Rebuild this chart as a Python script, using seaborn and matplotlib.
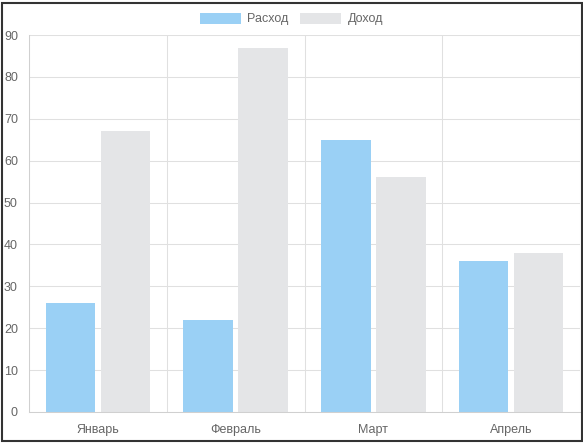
import matplotlib
matplotlib.use("Agg")
import pandas as pd
from matplotlib import pyplot as plt
from matplotlib.patches import Rectangle
import seaborn as sns

months = ["Январь", "Февраль", "Март", "Апрель"]
expense = [26, 22, 65, 36]
income = [67, 87, 56, 38]
series_names = ["Расход", "Доход"]
series_colors = ["#9ad0f5", "#e4e5e7"]

df = pd.DataFrame({
    "month": months * 2,
    "value": expense + income,
    "series": [series_names[0]] * len(months) + [series_names[1]] * len(months),
})

sns.set_style("white")
plt.rcParams["font.family"] = ["Liberation Sans", "DejaVu Sans"]

W, H = 583, 443
fig = plt.figure(figsize=(W / 100, H / 100), dpi=100)
ax = fig.add_axes([29 / W, 31 / H, (580 - 29) / W, (412 - 35) / H])

sns.barplot(data=df, x="month", y="value", hue="series", order=months,
            hue_order=series_names, palette=series_colors, width=0.8, gap=0.1,
            saturation=1, edgecolor="none", linewidth=0, ax=ax, legend=False)

ax.set_xlim(-0.5, len(months) - 0.5)
ax.set_ylim(0, 90)
ax.set_yticks(range(0, 91, 10))
ax.set_xticks([i - 0.5 for i in range(len(months) + 1)], minor=True)
ax.set_xlabel("")
ax.set_ylabel("")

grid_color = "#e0e0e0"
ax.grid(axis="y", color=grid_color, linewidth=0.75)
ax.grid(axis="x", which="minor", color=grid_color, linewidth=0.75)
ax.set_axisbelow(True)
ax.tick_params(axis="x", which="major", length=0, pad=9, labelsize=9, labelcolor="#666666")
ax.tick_params(axis="x", which="minor", length=6, color=grid_color, width=0.75)
ax.tick_params(axis="y", length=6, color=grid_color, width=0.75, pad=2,
               labelsize=9, labelcolor="#666666")
for side in ["top", "right"]:
    ax.spines[side].set_visible(False)
ax.spines["left"].set_color("#d0d0d0")
ax.spines["bottom"].set_color("#d0d0d0")
ax.spines["left"].set_linewidth(0.75)
ax.spines["bottom"].set_linewidth(0.75)

handles = [Rectangle((0, 0), 1, 1, facecolor=c, edgecolor="none") for c in series_colors]
fig.legend(handles, series_names, loc="center", bbox_to_anchor=(0.5, 1 - 19 / H),
           ncol=2, frameon=False, fontsize=9, labelcolor="#666666",
           handlelength=3.3, handleheight=1.0, handletextpad=0.5, columnspacing=0.9)

fig.patches.append(Rectangle((1.5 / W, 2.5 / H), (580 / W), (437.5 / H),
                             transform=fig.transFigure, fill=False,
                             edgecolor="#333333", linewidth=1.5))

fig.savefig("out.png", dpi=100)
